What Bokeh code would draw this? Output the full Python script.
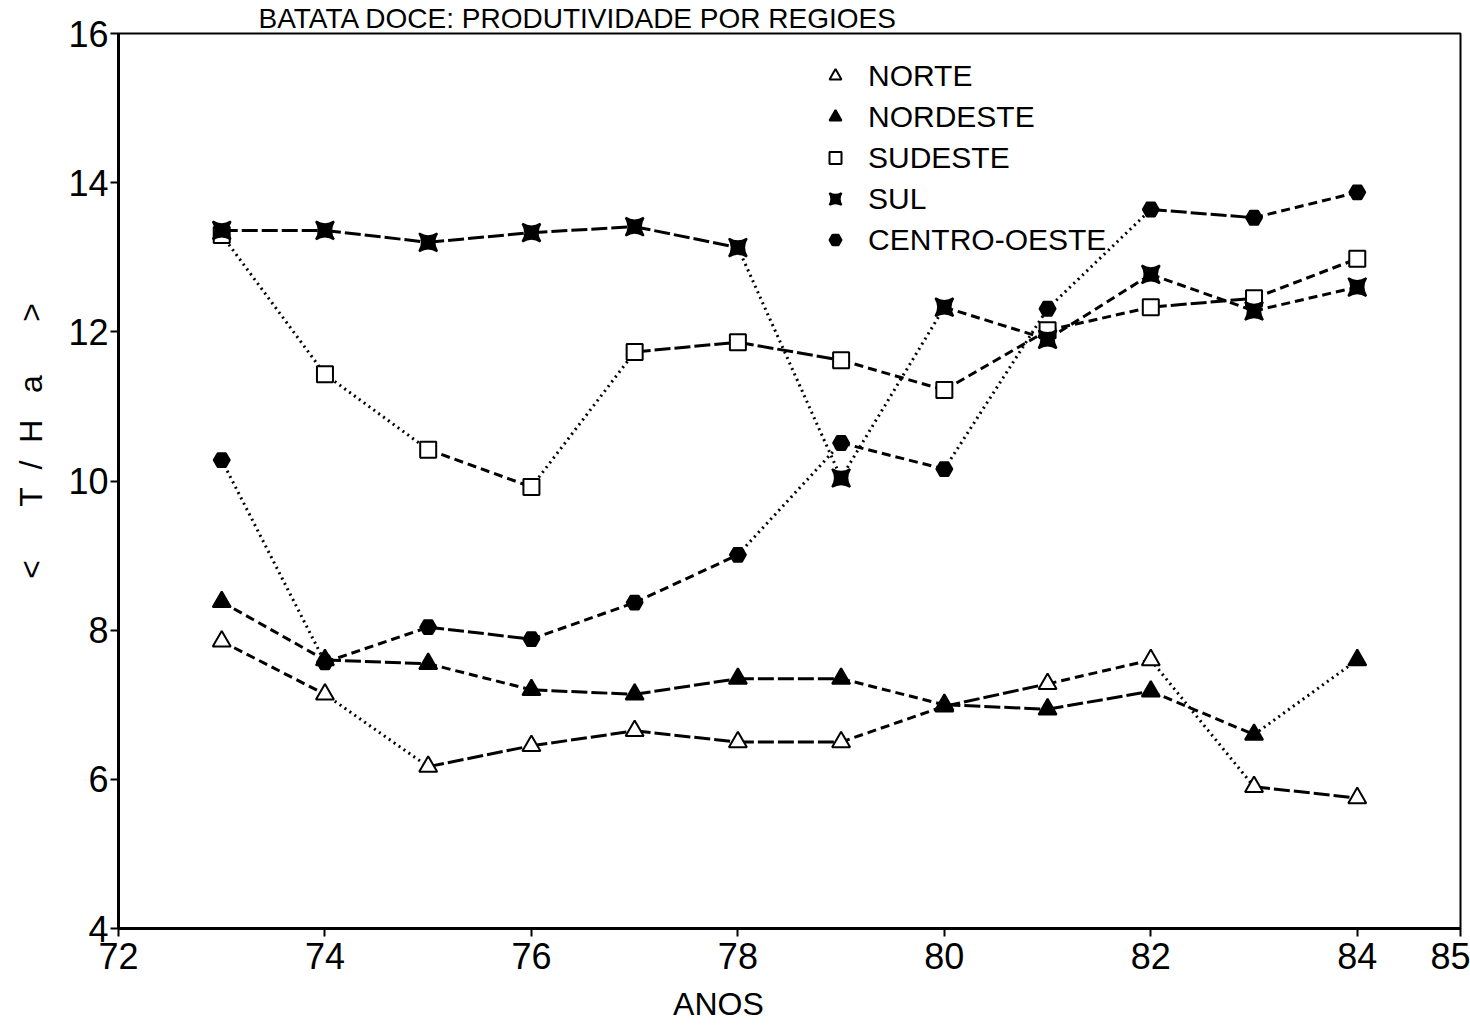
from bokeh.plotting import figure
from bokeh.models import Legend, LegendItem, FixedTicker, Range1d, ColumnDataSource
from bokeh.embed import file_html
from bokeh.resources import INLINE

FONT = "Liberation Sans Narrow, Liberation Sans, sans-serif"

years = [73, 74, 75, 76, 77, 78, 79, 80, 81, 82, 83, 84]
norte = [7.85, 7.14, 6.17, 6.45, 6.65, 6.5, 6.5, 6.98, 7.28, 7.6, 5.9, 5.75]
nordeste = [8.38, 7.6, 7.55, 7.2, 7.14, 7.35, 7.35, 7.0, 6.94, 7.18, 6.6, 7.6]
sudeste = [13.3, 11.43, 10.42, 9.92, 11.73, 11.86, 11.62, 11.22, 12.02, 12.33, 12.45, 12.98]
sul = [13.36, 13.36, 13.2, 13.33, 13.41, 13.13, 10.04, 12.33, 11.9, 12.77, 12.28, 12.6]
centro_oeste = [10.28, 7.57, 8.04, 7.88, 8.37, 9.01, 10.51, 10.16, 12.31, 13.64, 13.53, 13.87]

series_names = ["NORTE", "NORDESTE", "SUDESTE", "SUL", "CENTRO-OESTE"]
series_values = [norte, nordeste, sudeste, sul, centro_oeste]
x_ticks = [72, 74, 76, 78, 80, 82, 84, 85]
y_ticks = [4, 6, 8, 10, 12, 14, 16]
title_text = "BATATA DOCE: PRODUTIVIDADE POR REGIOES"
NB = "\u00a0"
y_label = NB * 9 + "<" + NB * 6 + "T" + NB * 2 + "/" + NB * 2 + "H" + NB * 3 + "a" + NB * 6 + ">"
x_label = "ANOS" + NB * 16

markers = ["triangle", "triangle", "square", "square_pin", "hex"]
fills = ["white", "black", "white", "black", "black"]
sizes = [18, 18, 16, 18, 16]

p = figure(width=1470, height=1035, output_backend="svg", toolbar_location=None,
           x_range=Range1d(72, 85), y_range=Range1d(4, 16),
           min_border_left=118, min_border_right=10, min_border_top=0, min_border_bottom=107)
p.background_fill_color = "white"
p.border_fill_color = "white"
p.xgrid.visible = False
p.ygrid.visible = False
p.outline_line_color = "black"
p.outline_line_width = 2

p.title.text = title_text
p.title.align = "left"
p.title.offset = 140
p.title.text_font = FONT
p.title.text_font_size = "28px"
p.title.text_font_style = "normal"
p.title.text_color = "black"
p.title.standoff = 0

p.xaxis.ticker = FixedTicker(ticks=x_ticks)
p.yaxis.ticker = FixedTicker(ticks=y_ticks)
for ax in (p.xaxis[0], p.yaxis[0]):
    ax.axis_line_color = "black"
    ax.axis_line_width = 3
    ax.major_tick_line_color = "black"
    ax.major_tick_line_width = 2
    ax.major_tick_out = 8
    ax.major_tick_in = 0
    ax.minor_tick_line_color = None
    ax.major_label_text_font = FONT
    ax.major_label_text_font_size = "36px"
    ax.major_label_text_color = "black"
    ax.axis_label_text_font = FONT
    ax.axis_label_text_font_style = "normal"
    ax.axis_label_text_color = "black"
p.xaxis.major_label_standoff = 6
p.yaxis.major_label_standoff = 2
p.xaxis.axis_label = x_label
p.xaxis.axis_label_text_font_size = "32px"
p.xaxis.axis_label_standoff = 14
p.yaxis.axis_label = y_label
p.yaxis.axis_label_text_font_size = "32px"
p.yaxis.axis_label_standoff = 16

items = []
for name, vals, mk, fc, sz in zip(series_names, series_values, markers, fills, sizes):
    groups = {"16 4": ([], [], [], []), "9 5": ([], [], [], []), "2 4": ([], [], [], [])}
    for i in range(len(years) - 1):
        a, b, c, d = years[i], years[i + 1], vals[i], vals[i + 1]
        dv = abs(d - c)
        key = "16 4" if dv < 0.3 else ("9 5" if dv < 0.9 else "2 4")
        g = groups[key]
        g[0].append(a); g[1].append(b); g[2].append(c); g[3].append(d)
    for key, g in groups.items():
        if g[0]:
            src = ColumnDataSource(dict(x0=g[0], x1=g[1], y0=g[2], y1=g[3]))
            p.segment("x0", "y0", "x1", "y1", source=src, line_color="black",
                      line_width=3, line_dash=key)
    r = p.scatter(years, vals, marker=mk, size=sz, fill_color=fc,
                  line_color="black", line_width=2)
    items.append(LegendItem(label=name, renderers=[r]))

legend = Legend(items=items, location=(702, 668), glyph_width=30, glyph_height=41,
                label_height=41, spacing=0, padding=0, margin=0, label_standoff=18,
                border_line_color=None, background_fill_alpha=0,
                label_text_font=FONT, label_text_font_size="30px",
                label_text_color="black")
p.add_layout(legend, "center")

open("out.html", "w").write(file_html(p, INLINE))
